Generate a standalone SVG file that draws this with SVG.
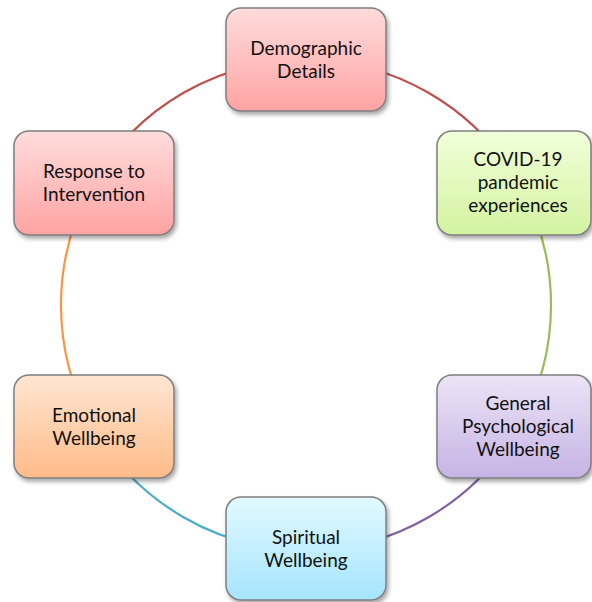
<svg xmlns="http://www.w3.org/2000/svg" width="592" height="602" viewBox="0 0 592 602">
<style>
.node rect{stroke:#7f7f7f;stroke-width:1.5;filter:url(#sh)}
.node text{font-family:Lato,"Open Sans",sans-serif;font-size:19px;fill:#111;text-anchor:middle}
.arc{fill:none;stroke-width:2.2}
</style>
<defs>
<filter id="sh" x="-10%" y="-10%" width="125%" height="130%">
<feDropShadow dx="2" dy="3" stdDeviation="2" flood-color="#000" flood-opacity="0.35"/>
</filter>
<linearGradient id="gRed" x1="0" y1="0" x2="0" y2="1"><stop offset="0" stop-color="#ffdcdc"/><stop offset="1" stop-color="#ffa3a3"/></linearGradient>
<linearGradient id="gGreen" x1="0" y1="0" x2="0" y2="1"><stop offset="0" stop-color="#f1ffda"/><stop offset="1" stop-color="#d3f3a0"/></linearGradient>
<linearGradient id="gPurple" x1="0" y1="0" x2="0" y2="1"><stop offset="0" stop-color="#ece4f6"/><stop offset="1" stop-color="#c6b3e4"/></linearGradient>
<linearGradient id="gBlue" x1="0" y1="0" x2="0" y2="1"><stop offset="0" stop-color="#e2f9ff"/><stop offset="1" stop-color="#a5e5fd"/></linearGradient>
<linearGradient id="gOrange" x1="0" y1="0" x2="0" y2="1"><stop offset="0" stop-color="#ffe6d3"/><stop offset="1" stop-color="#ffbb88"/></linearGradient>
</defs>
<rect width="592" height="602" fill="#fff"/>
<g id="connectors">
<path class="arc" stroke="#c0504d" d="M306 60 A245 245 0 0 1 518.2 182.5"/>
<path class="arc" stroke="#9bbb59" d="M518.2 182.5 A245 245 0 0 1 518.2 427.5"/>
<path class="arc" stroke="#8064a2" d="M518.2 427.5 A245 245 0 0 1 306 550"/>
<path class="arc" stroke="#4bacc6" d="M306 550 A245 245 0 0 1 93.8 427.5"/>
<path class="arc" stroke="#f79646" d="M93.8 427.5 A245 245 0 0 1 93.8 182.5"/>
<path class="arc" stroke="#c0504d" d="M93.8 182.5 A245 245 0 0 1 306 60"/>
</g>
<g id="node-demographic" class="node">
<rect x="226" y="8" width="160" height="103" rx="15" fill="url(#gRed)"/>
<text x="306" y="55">Demographic</text>
<text x="306" y="78">Details</text>
</g>
<g id="node-covid" class="node">
<rect x="437" y="131" width="154" height="104" rx="15" fill="url(#gGreen)"/>
<text x="518" y="166">COVID-19</text>
<text x="518" y="189">pandemic</text>
<text x="518" y="212">experiences</text>
</g>
<g id="node-general" class="node">
<rect x="437" y="375" width="154" height="103" rx="15" fill="url(#gPurple)"/>
<text x="518" y="410">General</text>
<text x="518" y="433">Psychological</text>
<text x="518" y="456">Wellbeing</text>
</g>
<g id="node-spiritual" class="node">
<rect x="226" y="497" width="160" height="103" rx="15" fill="url(#gBlue)"/>
<text x="306" y="544">Spiritual</text>
<text x="306" y="567">Wellbeing</text>
</g>
<g id="node-emotional" class="node">
<rect x="14" y="375" width="160" height="103" rx="15" fill="url(#gOrange)"/>
<text x="94" y="422">Emotional</text>
<text x="94" y="445">Wellbeing</text>
</g>
<g id="node-response" class="node">
<rect x="14" y="131" width="160" height="104" rx="15" fill="url(#gRed)"/>
<text x="94" y="178">Response to</text>
<text x="94" y="201">Intervention</text>
</g>
</svg>
